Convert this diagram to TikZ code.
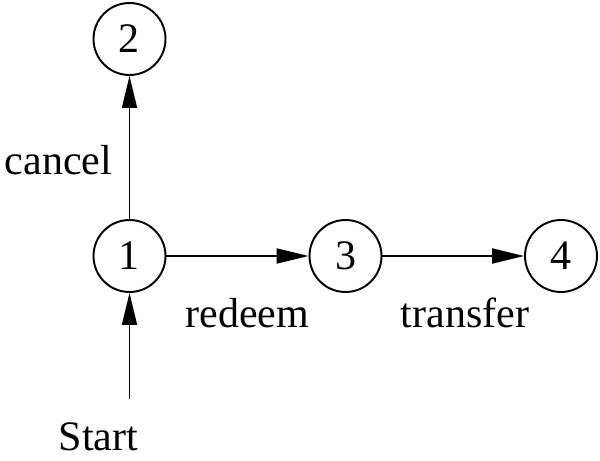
\documentclass[tikz,border=0pt]{standalone}
\usepackage{fontspec}
\setmainfont{Liberation Serif}
\usetikzlibrary{arrows.meta}

\newcommand{\statenode}[3]{
	\node[statecircle] (s#1) at (#2, #3) {#1};
}

\newcommand{\edgelabel}[4]{
	\node[anchor=base] (#1) at (#2, #3) {#4};
}

\begin{document}
\begin{tikzpicture}[>={Triangle[length=0.64cm,width=0.3cm]},line width=1.1pt,
	font=\fontsize{23.9}{28}\selectfont,
	statecircle/.style={draw,circle,inner sep=0pt,minimum size=1.44cm}]
				\useasboundingbox (0,0) rectangle (12,9.2);
				\statenode{1}{2.59}{4.08}
				\statenode{2}{2.59}{8.42}
				\statenode{3}{6.91}{4.08}
				\statenode{4}{11.22}{4.08}
				\edgelabel{start}{1.97}{0.2}{Start}
				\edgelabel{cancel}{1.17}{5.7}{cancel}
				\edgelabel{redeem}{4.95}{2.64}{redeem}
				\edgelabel{transfer}{9.3}{2.64}{transfer}
				\coordinate (startpt) at (2.59, 1.22);
				\draw[->] (startpt) -- (s1);
				\draw[->] (s1) -- (s2);
				\draw[->] (s1) -- (s3);
				\draw[->] (s3) -- (s4);
			\end{tikzpicture}
\end{document}
